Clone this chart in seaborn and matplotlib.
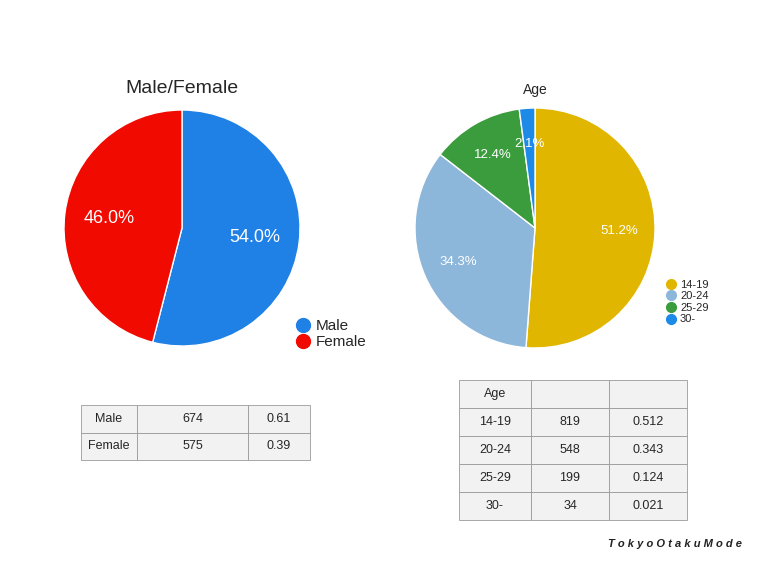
import seaborn as sns
import matplotlib.pyplot as plt
from matplotlib.lines import Line2D

sex_labels = ["Male", "Female"]
sex_share = [54.0, 46.0]
sex_counts = [674, 575]
sex_ratio = [0.61, 0.39]

age_labels = ["14-19", "20-24", "25-29", "30-"]
age_share = [51.2, 34.3, 12.4, 2.1]
age_counts = [819, 548, 199, 34]
age_ratio = [0.512, 0.343, 0.124, 0.021]

sex_colors = ["#1f80e6", "#f00a00"]
age_colors = ["#e0b600", "#8db6db", "#3a9c3c", "#1c8ae6"]

sns.set_style("white")
plt.rcParams['font.family'] = ['Liberation Sans', 'DejaVu Sans']

W, H = 766, 567
fig = plt.figure(figsize=(7.66, 5.67), dpi=100)


def box(x0, y0, x1, y1):
    return [x0 / W, 1 - y1 / H, (x1 - x0) / W, (y1 - y0) / H]


def fit(ax):
    ax.set_xlim(-1, 1)
    ax.set_ylim(-1, 1)
    ax.set_aspect('equal')
    ax.axis('off')


# left pie
ax1 = fig.add_axes(box(64, 110, 300, 346))
ax1.pie(sex_share, colors=sex_colors, startangle=90, counterclock=False,
        autopct='%1.1f%%', pctdistance=0.62,
        textprops=dict(color='white', fontsize=13))
fit(ax1)
fig.text(182 / W, 1 - 89 / H, "Male/Female", ha='center', va='center', fontsize=14)
handles = [Line2D([], [], marker='o', ls='', color=c, markersize=10) for c in sex_colors]
fig.legend(handles, sex_labels, loc='center left', bbox_to_anchor=(288 / W, 1 - 334 / H),
           frameon=False, fontsize=11, handletextpad=0.3, labelspacing=0.15,
           borderpad=0, handlelength=1)

# right pie
ax2 = fig.add_axes(box(415, 108, 655, 348))
ax2.pie(age_share, colors=age_colors, startangle=90, counterclock=False,
        autopct='%1.1f%%', pctdistance=0.7,
        textprops=dict(color='white', fontsize=9.5))
fit(ax2)
fig.text(535 / W, 1 - 90 / H, "Age", ha='center', va='center', fontsize=10)
handles = [Line2D([], [], marker='o', ls='', color=c, markersize=7) for c in age_colors]
fig.legend(handles, age_labels, loc='center left', bbox_to_anchor=(660 / W, 1 - 302 / H),
           frameon=False, fontsize=8, handletextpad=0.3, labelspacing=0.15,
           borderpad=0, handlelength=1)


def draw_table(rect, rows, col_widths):
    ax = fig.add_axes(box(*rect))
    ax.axis('off')
    tb = ax.table(cellText=rows, colWidths=col_widths, bbox=[0, 0, 1, 1],
                  cellLoc='center')
    tb.auto_set_font_size(False)
    tb.set_fontsize(9)
    for (r, c), cell in tb.get_celld().items():
        cell.set_facecolor('#f2f2f2')
        cell.set_edgecolor('#9a9a9a')
        cell.set_linewidth(0.6)
        cell.get_text().set_va('center')
    return tb


sex_rows = [[n, str(c), f"{p:.2f}"] for n, c, p in zip(sex_labels, sex_counts, sex_ratio)]
draw_table((81, 405, 310, 460), sex_rows, [56, 111, 62])

age_rows = [["Age", "", ""]] + [[n, str(c), f"{p:.3f}"]
                                 for n, c, p in zip(age_labels, age_counts, age_ratio)]
draw_table((459, 380, 687, 520), age_rows, [72, 78, 78])

fig.text(742 / W, 1 - 544 / H, "T o k y o O t a k u M o d e", ha='right', va='center',
         fontsize=8, fontstyle='italic', fontweight='bold', color='#222222')

fig.savefig("out.png", dpi=100)
